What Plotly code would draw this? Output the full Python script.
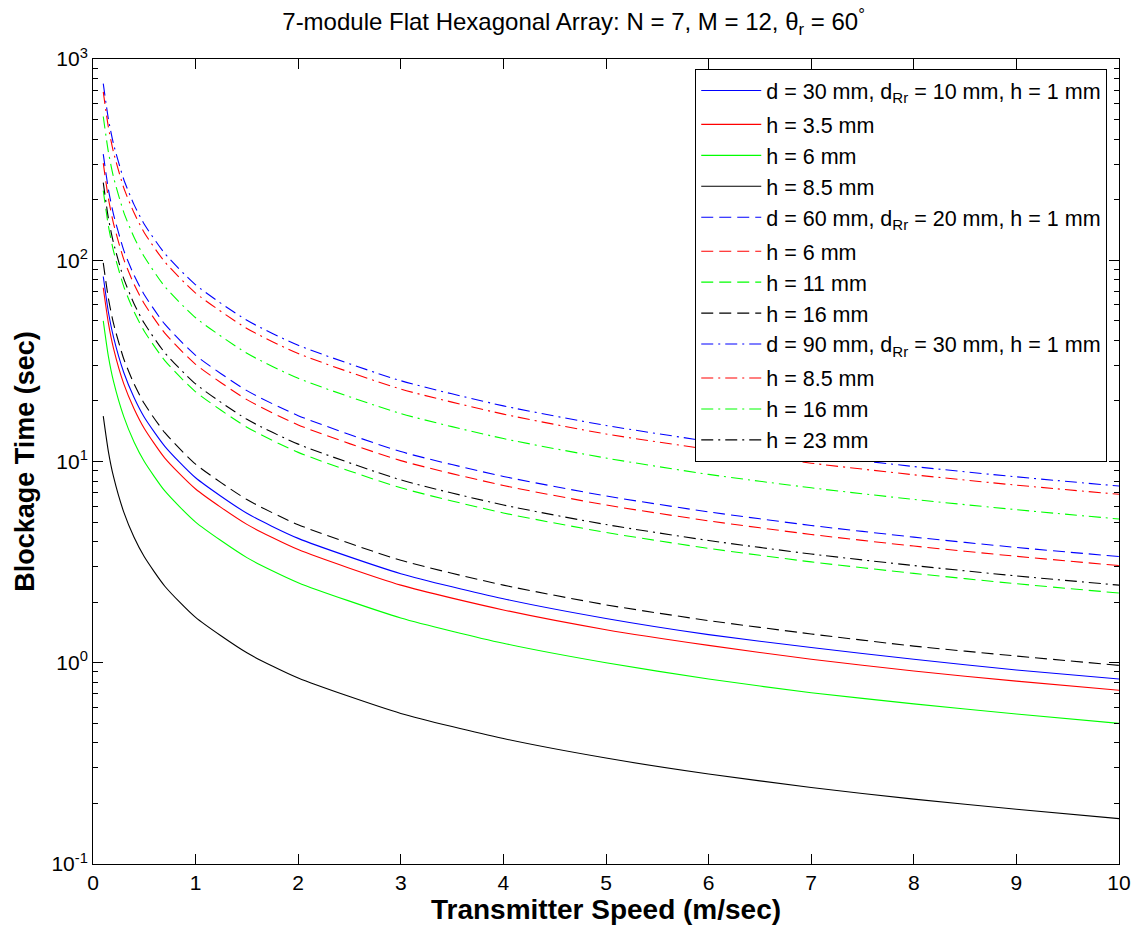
import plotly.graph_objects as go

# Transmitter speed (m/sec) sample points
speed = [0.1, 0.15, 0.2, 0.3, 0.4, 0.5, 0.7, 1.0, 1.5, 2.0, 3.0, 4.0, 5.0, 6.0, 7.0, 8.0, 9.0, 10.0]

# d = 30 mm, dRr = 10 mm (solid)
d30_h1   = [83, 55.3, 41.5, 27.7, 20.8, 16.6, 11.9, 8.3, 5.53, 4.15, 2.77, 2.08, 1.66, 1.38, 1.19, 1.04, 0.92, 0.83]
d30_h3p5 = [73, 48.7, 36.5, 24.3, 18.3, 14.6, 10.4, 7.3, 4.87, 3.65, 2.43, 1.83, 1.46, 1.22, 1.04, 0.91, 0.81, 0.73]
d30_h6   = [50, 33.3, 25, 16.7, 12.5, 10, 7.14, 5.0, 3.33, 2.5, 1.67, 1.25, 1.0, 0.83, 0.71, 0.625, 0.556, 0.5]
d30_h8p5 = [16.8, 11.2, 8.4, 5.6, 4.2, 3.36, 2.4, 1.68, 1.12, 0.84, 0.56, 0.42, 0.336, 0.28, 0.24, 0.21, 0.187, 0.168]

# d = 60 mm, dRr = 20 mm (dashed)
d60_h1  = [337, 225, 169, 112, 84.3, 67.4, 48.1, 33.7, 22.5, 16.9, 11.2, 8.43, 6.74, 5.62, 4.81, 4.21, 3.74, 3.37]
d60_h6  = [304, 203, 152, 101, 76, 60.8, 43.4, 30.4, 20.3, 15.2, 10.1, 7.6, 6.08, 5.07, 4.34, 3.8, 3.38, 3.04]
d60_h11 = [222, 148, 111, 74, 55.5, 44.4, 31.7, 22.2, 14.8, 11.1, 7.4, 5.55, 4.44, 3.7, 3.17, 2.78, 2.47, 2.22]
d60_h16 = [97, 64.7, 48.5, 32.3, 24.3, 19.4, 13.9, 9.7, 6.47, 4.85, 3.23, 2.43, 1.94, 1.62, 1.39, 1.21, 1.08, 0.97]

# d = 90 mm, dRr = 30 mm (dash-dot)
d90_h1   = [755, 503, 378, 252, 189, 151, 108, 75.5, 50.3, 37.8, 25.2, 18.9, 15.1, 12.6, 10.8, 9.44, 8.39, 7.55]
d90_h8p5 = [687, 458, 344, 229, 172, 137, 98.1, 68.7, 45.8, 34.4, 22.9, 17.2, 13.7, 11.5, 9.81, 8.59, 7.63, 6.87]
d90_h16  = [518, 345, 259, 173, 130, 104, 74, 51.8, 34.5, 25.9, 17.3, 13.0, 10.4, 8.63, 7.4, 6.48, 5.76, 5.18]
d90_h23  = [243, 162, 122, 81, 60.8, 48.6, 34.7, 24.3, 16.2, 12.2, 8.1, 6.08, 4.86, 4.05, 3.47, 3.04, 2.7, 2.43]

series = [
    ("d = 30 mm, d<sub>Rr</sub> = 10 mm, h = 1 mm", d30_h1, "#0000FF", "solid", "g1"),
    ("h = 3.5 mm", d30_h3p5, "#FF0000", "solid", "g2"),
    ("h = 6 mm", d30_h6, "#00FF00", "solid", "g2"),
    ("h = 8.5 mm", d30_h8p5, "#000000", "solid", "g2"),
    ("d = 60 mm, d<sub>Rr</sub> = 20 mm, h = 1 mm", d60_h1, "#0000FF", "12px,6px", "g2"),
    ("h = 6 mm", d60_h6, "#FF0000", "12px,6px", "g3"),
    ("h = 11 mm", d60_h11, "#00FF00", "12px,6px", "g3"),
    ("h = 16 mm", d60_h16, "#000000", "12px,6px", "g3"),
    ("d = 90 mm, d<sub>Rr</sub> = 30 mm, h = 1 mm", d90_h1, "#0000FF", "12px,5px,2px,5px", "g3"),
    ("h = 8.5 mm", d90_h8p5, "#FF0000", "12px,5px,2px,5px", "g4"),
    ("h = 16 mm", d90_h16, "#00FF00", "12px,5px,2px,5px", "g4"),
    ("h = 23 mm", d90_h23, "#000000", "12px,5px,2px,5px", "g4"),
]

FONT = "Liberation Sans, Arial, Helvetica, sans-serif"

fig = go.Figure()
for name, vals, color, dash, grp in series:
    fig.add_trace(go.Scatter(
        x=speed, y=vals, mode="lines", name=name, legendgroup=grp,
        line=dict(color=color, width=1.1, dash=dash, shape="spline", smoothing=0.6),
    ))

major = [0.1, 1, 10, 100, 1000]
major_text = ["10<sup>-1</sup>", "10<sup>0</sup>", "10<sup>1</sup>", "10<sup>2</sup>", "10<sup>3</sup>"]
minor_vals = [m * 10 ** e for e in range(-1, 3) for m in range(2, 10)]

fig.update_layout(
    width=1143, height=930,
    paper_bgcolor="white", plot_bgcolor="white",
    margin=dict(l=93, r=21, t=59, b=65, pad=0),
    font=dict(family=FONT, size=21, color="black"),
    title=dict(
        text="7-module Flat Hexagonal Array: N = 7, M = 12, θ<sub>r</sub> = 60<sup>°</sup>",
        x=(575 - 93) / 1029, xref="paper", xanchor="center",
        y=1 - 22 / 930, yref="container", yanchor="middle",
        font=dict(family=FONT, size=24, color="black"),
    ),
    showlegend=True,
    legend=dict(
        x=(697 - 93) / 1029, y=(865 - 69) / 806, xanchor="left", yanchor="top",
        bgcolor="white", bordercolor="black", borderwidth=1,
        font=dict(family=FONT, size=21.5, color="black"),
        itemwidth=60, tracegroupgap=3, traceorder="grouped",
        groupclick="toggleitem",
    ),
)

fig.update_xaxes(
    range=[0, 10], tick0=0, dtick=1,
    ticks="inside", ticklen=10, tickwidth=1, tickcolor="black",
    showline=True, linecolor="black", linewidth=1, mirror="allticks",
    showgrid=False, zeroline=False,
    tickfont=dict(family=FONT, size=21, color="black"),
    title=dict(text="<b>Transmitter Speed (m/sec)</b>", font=dict(family=FONT, size=28, color="black"), standoff=4),
)
fig.update_yaxes(
    type="log", range=[-1, 3],
    tickmode="array", tickvals=major, ticktext=major_text,
    ticks="inside", ticklen=10, tickwidth=1, tickcolor="black",
    minor=dict(tickmode="array", tickvals=minor_vals, ticks="inside", ticklen=5, tickcolor="black", showgrid=False),
    showline=True, linecolor="black", linewidth=1, mirror="allticks",
    showgrid=False, zeroline=False,
    tickfont=dict(family=FONT, size=21, color="black"),
    title=dict(text="<b>Blockage Time (sec)</b>", font=dict(family=FONT, size=27, color="black"), standoff=8),
)

fig.write_html("out.html")
